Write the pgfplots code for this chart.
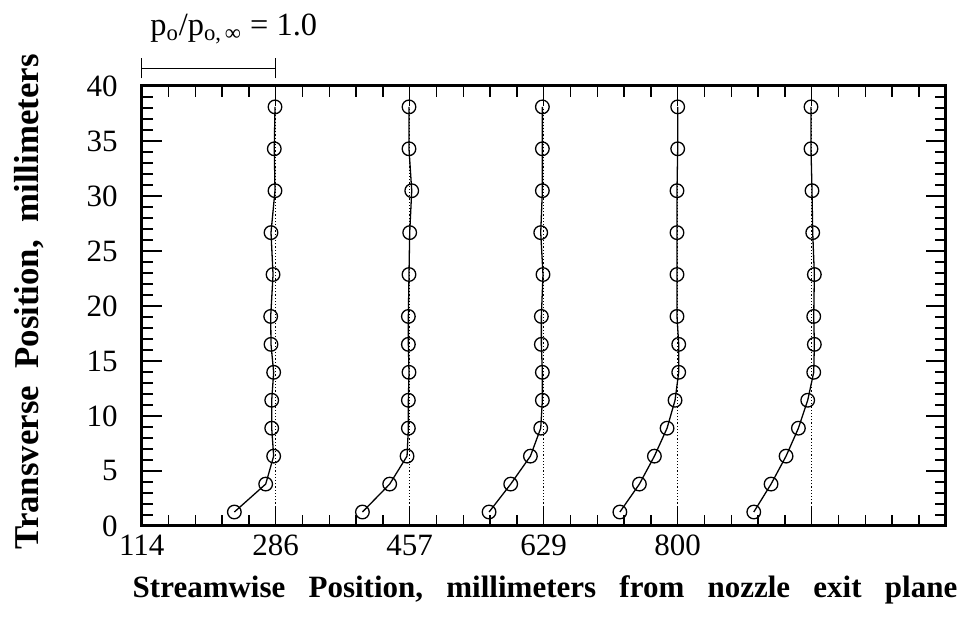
\documentclass[border=0pt]{standalone}
\usepackage{fontspec}
\setmainfont{Liberation Serif}
\usepackage{pgfplots}
\pgfplotsset{compat=1.18}
\begin{document}
\begin{tikzpicture}
\begin{axis}[
  scale only axis,
  width=402pt, height=220pt,
  xmin=114.3, xmax=1143, ymin=0, ymax=40,
  xtick={114.3,285.75,457.2,628.65,800.1,971.55,1143},
  xticklabels={114,286,457,629,800,,},
  ytick={0,5,...,40},
  minor x tick num=4, minor y tick num=4,
  xtick pos=both, ytick pos=both,
  tick align=inside,
  major tick length=10pt, minor tick length=5.5pt,
  axis line style={line width=1.5pt},
  every tick/.style={line width=0.7pt, black},
  /pgf/number format/assume math mode=true,
  tick label style={font=\fontsize{15.5}{18}\selectfont},
  yticklabel style={xshift=-8.5pt},
  xticklabel style={yshift=-1pt},
  xlabel={\bfseries Streamwise~~~Position,~~~millimeters~~~from~~~nozzle~~~exit~~~plane},
  ylabel={\bfseries Transverse~~Position,~~millimeters},
  xlabel style={font=\fontsize{15.5}{18}\selectfont, at={(axis description cs:0.5016,-0.145)}, anchor=center},
  ylabel style={font=\fontsize{17.4}{20}\selectfont, at={(axis description cs:-0.140,0.509)}, anchor=center, rotate=0},
  clip=false,
]
% reference lines p_o/p_o,inf = 1
\addplot[densely dotted, line width=0.6pt] coordinates {(285.75,0) (285.75,38.1)};
\addplot[densely dotted, line width=0.6pt] coordinates {(457.2,0) (457.2,38.1)};
\addplot[densely dotted, line width=0.6pt] coordinates {(628.65,0) (628.65,38.1)};
\addplot[densely dotted, line width=0.6pt] coordinates {(800.1,0) (800.1,38.1)};
\addplot[densely dotted, line width=0.6pt] coordinates {(971.55,0) (971.55,38.1)};
% profiles
\pgfplotsset{prof/.style={line width=0.65pt, black, mark=o, mark size=3.4pt, mark options={line width=0.65pt, fill=none}}}
\addplot[prof] coordinates {
 (232.85,1.27) (272.95,3.81) (283.15,6.35) (280.65,8.89) (280.65,11.43) (283.15,13.97) (279.75,16.51)
 (279.35,19.05) (282.35,22.86) (279.75,26.67) (284.85,30.48) (283.95,34.29) (284.85,38.1)};
\addplot[prof] coordinates {
 (396.7,1.27) (431.6,3.81) (453.8,6.35) (455.5,8.89) (455.5,11.43) (456.3,13.97) (455.5,16.51)
 (455.5,19.05) (456.3,22.86) (457.2,26.67) (459.8,30.48) (456.3,34.29) (456.3,38.1)};
\addplot[prof] coordinates {
 (558.75,1.27) (586.45,3.81) (611.65,6.35) (624.85,8.89) (626.95,11.43) (626.95,13.97) (625.65,16.51)
 (625.65,19.05) (627.75,22.86) (624.85,26.67) (626.95,30.48) (626.95,34.29) (626.95,38.1)};
\addplot[prof] coordinates {
 (726.1,1.27) (751.1,3.81) (770.3,6.35) (786.5,8.89) (796.7,11.43) (801.4,13.97) (801.4,16.51)
 (799.2,19.05) (799.2,22.86) (799.2,26.67) (799.2,30.48) (800.1,34.29) (800.1,38.1)};
\addplot[prof] coordinates {
 (897.45,1.27) (919.55,3.81) (938.75,6.35) (954.55,8.89) (966.45,11.43) (974.15,13.97) (974.95,16.51)
 (974.15,19.05) (974.95,22.86) (972.85,26.67) (971.95,30.48) (970.65,34.29) (970.65,38.1)};
% scale bar
\draw[line width=0.65pt] (axis cs:114.3,41.6) -- (axis cs:285.75,41.6);
\draw[line width=0.65pt] (axis cs:114.3,40.7) -- (axis cs:114.3,42.5);
\draw[line width=0.65pt] (axis cs:285.75,40.7) -- (axis cs:285.75,42.5);
\node[anchor=base west, inner sep=0pt, font=\fontsize{16.2}{19}\selectfont] at (axis cs:124.9,44.6)
  {p\textsubscript{o}/p\textsubscript{o,\,∞} = 1.0};
\end{axis}
\pgfresetboundingbox
\path (current axis.south west) ++(-70.85pt,-48.5pt) coordinate (bl);
\path (current axis.north east) ++(12.65pt,43pt) coordinate (tr);
\path[use as bounding box] (bl) rectangle (tr);
\end{tikzpicture}
\end{document}
